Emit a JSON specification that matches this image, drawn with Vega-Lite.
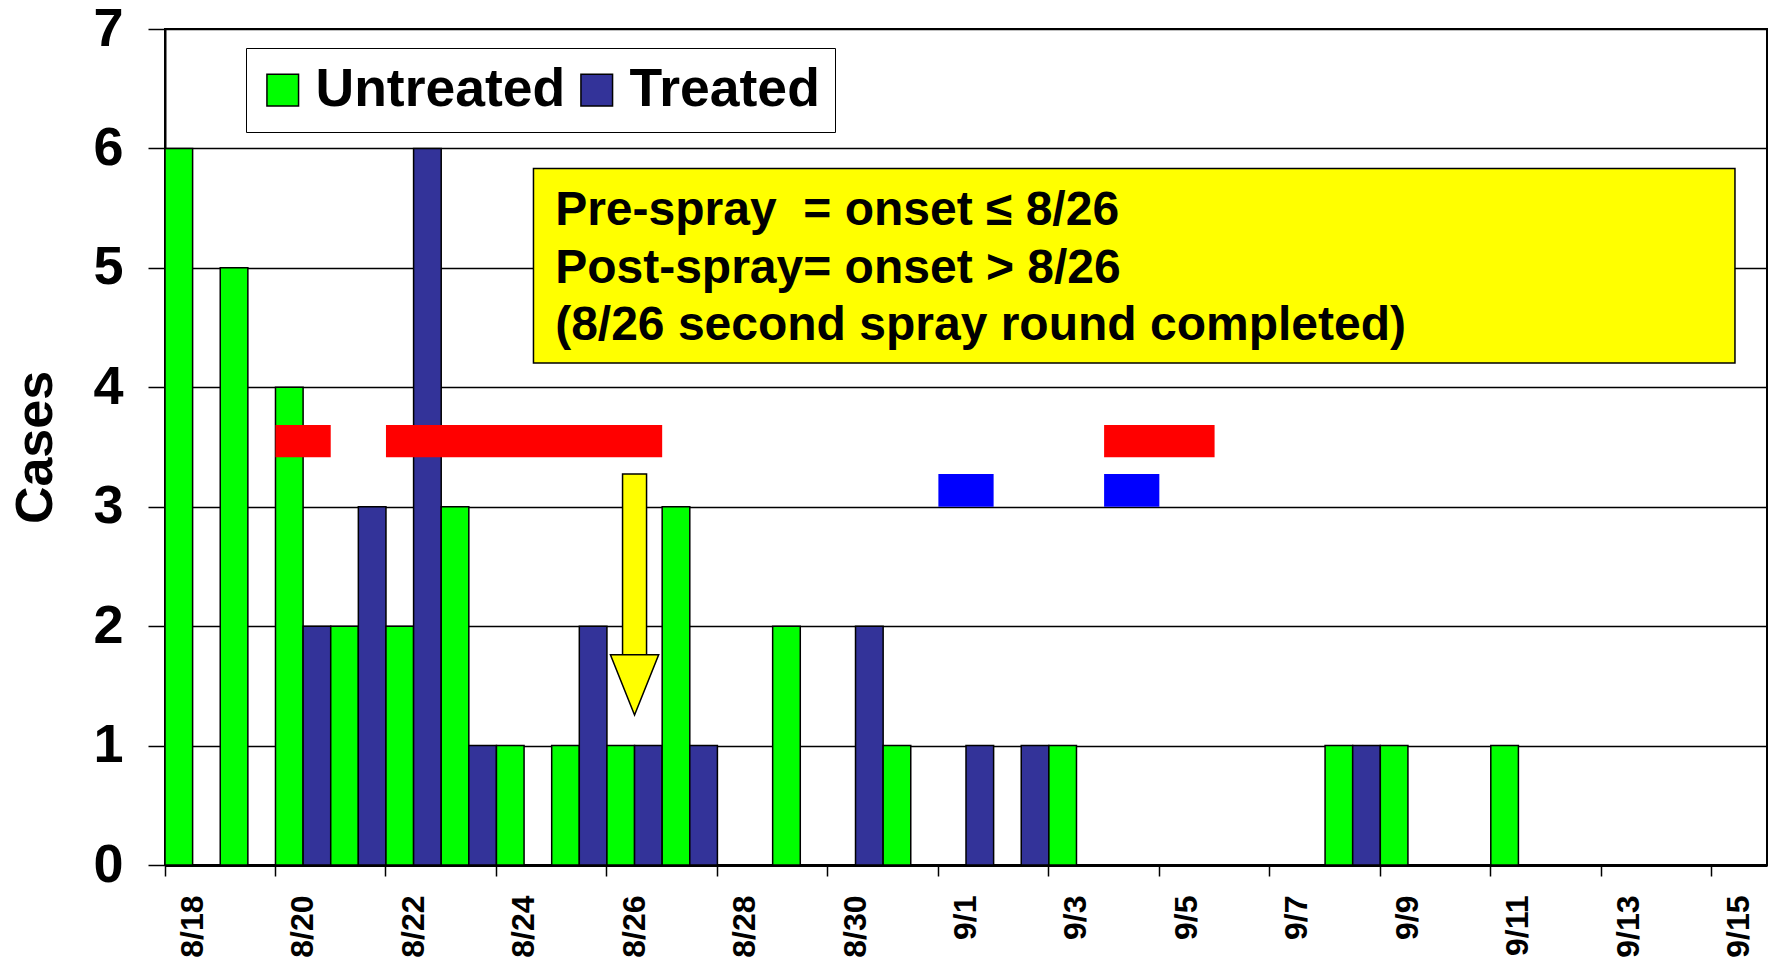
{
  "$schema": "https://vega.github.io/schema/vega-lite/v6.json",
  "width": 1602,
  "height": 836,
  "autosize": {"type": "none"},
  "padding": {"left": 165, "top": 29, "right": 5, "bottom": 95},
  "background": "white",
  "config": {
    "view": {"stroke": "black", "strokeWidth": 2},
    "font": "Liberation Sans"
  },
  "datasets": {
    "cases": [
      {"day": "8/18", "group": "Untreated", "cases": 6},
      {"day": "8/19", "group": "Untreated", "cases": 5},
      {"day": "8/20", "group": "Untreated", "cases": 4},
      {"day": "8/20", "group": "Treated", "cases": 2},
      {"day": "8/21", "group": "Untreated", "cases": 2},
      {"day": "8/21", "group": "Treated", "cases": 3},
      {"day": "8/22", "group": "Untreated", "cases": 2},
      {"day": "8/22", "group": "Treated", "cases": 6},
      {"day": "8/23", "group": "Untreated", "cases": 3},
      {"day": "8/23", "group": "Treated", "cases": 1},
      {"day": "8/24", "group": "Untreated", "cases": 1},
      {"day": "8/25", "group": "Untreated", "cases": 1},
      {"day": "8/25", "group": "Treated", "cases": 2},
      {"day": "8/26", "group": "Untreated", "cases": 1},
      {"day": "8/26", "group": "Treated", "cases": 1},
      {"day": "8/27", "group": "Untreated", "cases": 3},
      {"day": "8/27", "group": "Treated", "cases": 1},
      {"day": "8/29", "group": "Untreated", "cases": 2},
      {"day": "8/30", "group": "Treated", "cases": 2},
      {"day": "8/31", "group": "Untreated", "cases": 1},
      {"day": "9/1", "group": "Treated", "cases": 1},
      {"day": "9/2", "group": "Treated", "cases": 1},
      {"day": "9/3", "group": "Untreated", "cases": 1},
      {"day": "9/8", "group": "Untreated", "cases": 1},
      {"day": "9/8", "group": "Treated", "cases": 1},
      {"day": "9/9", "group": "Untreated", "cases": 1},
      {"day": "9/11", "group": "Untreated", "cases": 1}
    ],
    "redSpray": [
      {"start": "2003-08-20", "end": "2003-08-21"},
      {"start": "2003-08-22", "end": "2003-08-27"},
      {"start": "2003-09-04", "end": "2003-09-06"}
    ],
    "blueSpray": [
      {"start": "2003-09-01", "end": "2003-09-02"},
      {"start": "2003-09-04", "end": "2003-09-05"}
    ],
    "note": [
      {"note": "Pre-spray\u00a0 = onset ≤ 8/26\nPost-spray= onset > 8/26\n(8/26 second spray round completed)"}
    ],
    "arrow": [
      {"day": "8/26"}
    ]
  },
  "resolve": {"scale": {"x": "independent"}, "axis": {"x": "independent"}},
  "layer": [
    {
      "data": {"name": "cases"},
      "mark": {"type": "bar", "stroke": "black", "strokeWidth": 1.5},
      "encoding": {
        "x": {
          "field": "day", "type": "ordinal",
          "scale": {
            "domain": ["8/18","8/19","8/20","8/21","8/22","8/23","8/24","8/25","8/26","8/27","8/28","8/29","8/30","8/31","9/1","9/2","9/3","9/4","9/5","9/6","9/7","9/8","9/9","9/10","9/11","9/12","9/13","9/14","9/15"],
            "paddingInner": 0, "paddingOuter": 0
          },
          "axis": {
            "values": ["8/18","8/20","8/22","8/24","8/26","8/28","8/30","9/1","9/3","9/5","9/7","9/9","9/11","9/13","9/15"],
            "bandPosition": 0,
            "title": null,
            "grid": false,
            "domainColor": "black", "domainWidth": 3,
            "tickColor": "black", "tickWidth": 1.5, "tickSize": 11,
            "labelAngle": -90, "labelAlign": "right", "labelBaseline": "middle",
            "labelFont": "Liberation Sans", "labelFontWeight": "bold", "labelFontSize": 32,
            "labelColor": "black", "labelPadding": 19, "labelOverlap": false, "labelBound": false, "labelFlush": false
          }
        },
        "xOffset": {
          "field": "group", "type": "nominal",
          "scale": {"domain": ["Untreated", "Treated"], "paddingInner": 0, "paddingOuter": 0}
        },
        "y": {
          "field": "cases", "type": "quantitative",
          "scale": {"domain": [0, 7], "nice": false},
          "axis": {
            "values": [0,1,2,3,4,5,6,7],
            "format": "d",
            "title": "Cases",
            "grid": true, "gridColor": "black", "gridWidth": 1.5, "gridOpacity": 1,
            "domainColor": "black", "domainWidth": 2,
            "tickColor": "black", "tickWidth": 1.5, "tickSize": 17,
            "labelFont": "Liberation Sans", "labelFontWeight": "bold", "labelFontSize": 54,
            "labelColor": "black", "labelPadding": 25,
            "titleFont": "Liberation Sans", "titleFontWeight": "bold", "titleFontSize": 52,
            "titleColor": "black", "titlePadding": 30
          }
        },
        "color": {
          "field": "group", "type": "nominal",
          "scale": {"domain": ["Untreated", "Treated"], "range": ["#00FF00", "#333399"]},
          "legend": {
            "title": null,
            "orient": "none", "legendX": 81, "legendY": 19,
            "direction": "horizontal", "columns": 2,
            "fillColor": "white", "strokeColor": "black",
            "padding": 15,
            "symbolType": "square", "symbolSize": 1000, "symbolOffset": -5,
            "symbolStrokeColor": "black", "symbolStrokeWidth": 1.5, "symbolOpacity": 1,
            "labelFont": "Liberation Sans", "labelFontWeight": "bold", "labelFontSize": 53.5,
            "labelColor": "black", "labelOffset": 6, "columnPadding": 9,
            "labelLimit": 400
          }
        }
      }
    },
    {
      "data": {"name": "redSpray"},
      "mark": {"type": "rect", "fill": "#FF0000"},
      "encoding": {
        "x": {
          "field": "start", "type": "temporal",
          "scale": {"type": "utc", "domain": [{"year": 2003, "month": 8, "date": 18, "utc": true}, {"year": 2003, "month": 9, "date": 16, "utc": true}]},
          "axis": null
        },
        "x2": {"field": "end"},
        "y": {"datum": 3.685},
        "y2": {"datum": 3.415}
      }
    },
    {
      "data": {"name": "blueSpray"},
      "mark": {"type": "rect", "fill": "#0000FF"},
      "encoding": {
        "x": {
          "field": "start", "type": "temporal",
          "scale": {"type": "utc", "domain": [{"year": 2003, "month": 8, "date": 18, "utc": true}, {"year": 2003, "month": 9, "date": 16, "utc": true}]},
          "axis": null
        },
        "x2": {"field": "end"},
        "y": {"datum": 3.273},
        "y2": {"datum": 3.0}
      }
    },
    {
      "data": {"name": "note"},
      "mark": {"type": "rect", "fill": "#FFFF00", "stroke": "black", "strokeWidth": 1.5},
      "encoding": {
        "x": {
          "datum": {"year": 2003, "month": 8, "date": 24, "hours": 16, "minutes": 5, "utc": true}, "type": "temporal",
          "scale": {"type": "utc", "domain": [{"year": 2003, "month": 8, "date": 18, "utc": true}, {"year": 2003, "month": 9, "date": 16, "utc": true}]},
          "axis": null
        },
        "x2": {"datum": {"year": 2003, "month": 9, "date": 15, "hours": 10, "minutes": 5, "utc": true}},
        "y": {"datum": 5.832},
        "y2": {"datum": 4.203}
      }
    },
    {
      "data": {"name": "note"},
      "mark": {"type": "text", "align": "left", "baseline": "middle", "lineBreak": "\n", "lineHeight": 57.8, "font": "Liberation Sans", "fontWeight": "bold", "fontSize": 48, "color": "black"},
      "encoding": {
        "x": {
          "datum": {"year": 2003, "month": 8, "date": 25, "hours": 1, "minutes": 30, "utc": true}, "type": "temporal",
          "scale": {"type": "utc", "domain": [{"year": 2003, "month": 8, "date": 18, "utc": true}, {"year": 2003, "month": 9, "date": 16, "utc": true}]},
          "axis": null
        },
        "y": {"datum": 5.477},
        "text": {"field": "note"}
      }
    },
    {
      "data": {"name": "arrow"},
      "mark": {"type": "bar", "width": 24, "fill": "#FFFF00", "stroke": "black", "strokeWidth": 1.5},
      "encoding": {
        "x": {
          "field": "day", "type": "ordinal",
          "scale": {
            "domain": ["8/18","8/19","8/20","8/21","8/22","8/23","8/24","8/25","8/26","8/27","8/28","8/29","8/30","8/31","9/1","9/2","9/3","9/4","9/5","9/6","9/7","9/8","9/9","9/10","9/11","9/12","9/13","9/14","9/15"],
            "paddingInner": 0, "paddingOuter": 0
          },
          "axis": null
        },
        "y": {"datum": 3.273},
        "y2": {"datum": 1.74}
      }
    },
    {
      "data": {"name": "arrow"},
      "mark": {"type": "point", "shape": "M-0.8,-1L0.8,-1L0,1Z", "size": 3636, "filled": true, "fill": "#FFFF00", "stroke": "black", "strokeWidth": 1.5, "opacity": 1},
      "encoding": {
        "x": {
          "field": "day", "type": "ordinal",
          "scale": {
            "domain": ["8/18","8/19","8/20","8/21","8/22","8/23","8/24","8/25","8/26","8/27","8/28","8/29","8/30","8/31","9/1","9/2","9/3","9/4","9/5","9/6","9/7","9/8","9/9","9/10","9/11","9/12","9/13","9/14","9/15"],
            "paddingInner": 0, "paddingOuter": 0
          },
          "axis": null
        },
        "y": {"datum": 1.5085}
      }
    }
  ]
}
